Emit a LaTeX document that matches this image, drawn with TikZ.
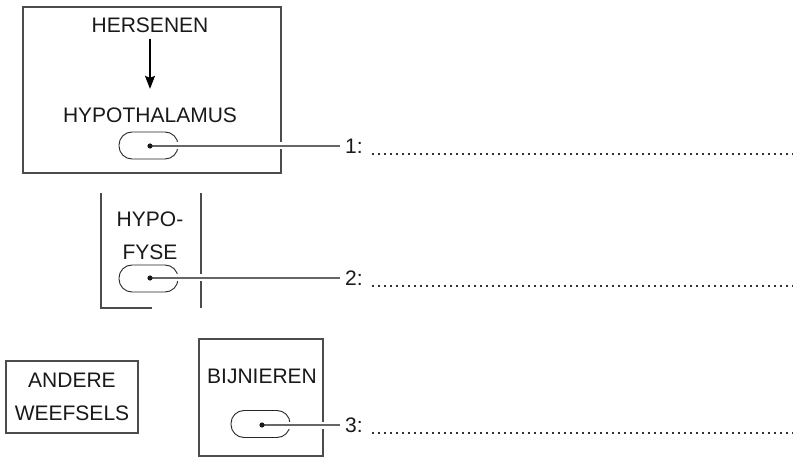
\documentclass[tikz,border=0pt]{standalone}
\usepackage{fontspec}
\setmainfont{Liberation Sans}
\usetikzlibrary{arrows.meta}
\begin{document}
\begin{tikzpicture}[x=1pt, y=-1pt,
  frame/.style={draw=black!70, line width=1.2pt},
  pill/.style={draw=black!85, line width=0.9pt, rounded corners=13pt, minimum width=59pt, minimum height=27pt, inner sep=0pt},
  lbl/.style={font=\fontsize{21}{32.5}\selectfont, text=black!90, inner sep=0pt, align=center},
  lead/.style={draw=black!60, line width=1.2pt, shorten >=5pt, preaction={draw=white, line width=7pt}},
  dots/.style={draw=black!80, line width=2pt, dash pattern=on 2pt off 4pt}]
  \useasboundingbox (0,0) rectangle (793,457);

  % frames
  \draw[frame] (23,7) rectangle (281,173);
  \draw[frame] (101,193) -- (101,308) -- (152,308);
  \draw[frame] (201,193) -- (201,308);
  \draw[frame] (199,339) rectangle (323,456);

  % texts
  \node[lbl] (hersenen) at (150,25) {HERSENEN};
  \node[lbl] (hypothalamus) at (150,115.5) {HYPOTHALAMUS};
  \node[lbl] (hypofyse) at (150,236) {HYPO-\\FYSE};
  \node[lbl, frame, minimum width=132pt, minimum height=72pt] (andere) at (72,397) {ANDERE\\WEEFSELS};
  \node[lbl] (bijnieren) at (262,376) {BIJNIEREN};
  \draw[line width=1.5pt, -{Stealth[length=13pt, width=10pt, inset=2pt]}, shorten <=6pt, shorten >=19pt]
    (hersenen) -- (hypothalamus);

  % pills with their dots
  \node[pill] (p1) at (148.5,145.5) {};
  \node[pill] (p2) at (148.5,278.5) {};
  \node[pill] (p3) at (260.5,424) {};
  \coordinate (d1) at (150,146);
  \coordinate (d2) at (150,278);
  \coordinate (d3) at (262,425);

  % answer lines
  \node[lbl, anchor=west] (l1) at (345,146) {1:};
  \node[lbl, anchor=west] (l2) at (345,278) {2:};
  \node[lbl, anchor=west] (l3) at (345,425) {3:};
  \foreach \i in {1,2,3}
  {
    \draw[lead] (d\i) -- (l\i.west);
    \fill[black!90] (d\i) circle (2.6);
    \coordinate (e\i) at (793,0 |- l\i.base);
    \draw[dots] ([xshift=9pt,yshift=-1pt]l\i.base east) -- ([yshift=-1pt]e\i);
  };
\end{tikzpicture}
\end{document}
